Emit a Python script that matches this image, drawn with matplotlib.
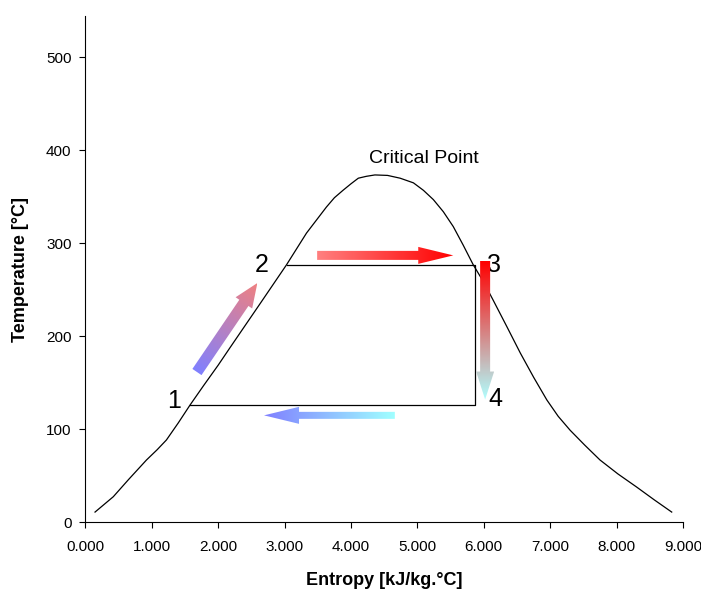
import matplotlib
matplotlib.use("Agg")
import matplotlib.pyplot as plt
import numpy as np
from matplotlib.colors import to_rgb
from matplotlib.patches import Polygon

plt.rcParams["font.family"] = ["Liberation Sans", "DejaVu Sans"]

# saturation dome, entropy [kJ/kg.C] vs temperature [C]
dome_s = [0.145, 0.42, 0.65, 0.92, 1.08, 1.22, 1.40, 1.575, 1.78, 2.0, 2.18,
          2.40, 2.63, 2.83, 3.03, 3.18, 3.33, 3.48, 3.63, 3.75, 3.88, 4.0,
          4.11, 4.23, 4.36, 4.55, 4.74, 4.94, 5.09, 5.24, 5.39, 5.54, 5.69,
          5.84, 6.0, 6.14, 6.35, 6.55, 6.75, 6.95, 7.12, 7.30, 7.52, 7.75,
          8.02, 8.30, 8.57, 8.83]
dome_T = [11, 27.5, 46, 67, 78, 88.5, 107, 126, 147, 169, 188,
          211, 235, 256, 277, 294, 311, 325, 339, 349, 357, 364,
          370, 372, 373.5, 373, 370, 365, 357, 347, 334, 318, 298,
          277, 258, 239, 210, 182, 156, 131.5, 114, 99, 83, 67,
          52, 38, 24, 11]

# cycle state points 1..4
state_labels = ["1", "2", "3", "4"]
state_s = [1.575, 3.03, 5.86, 5.86]
state_T = [126, 277, 277, 126]
label_s = [1.34, 2.66, 6.15, 6.17]
label_T = [130, 277, 277, 133]

# process arrows: start, end, start colour, end colour
arrow_start = [(1.68, 161.6), (3.49, 287), (6.02, 281), (4.66, 115)]
arrow_end = [(2.59, 257.3), (5.54, 287), (6.02, 132), (2.69, 115)]
arrow_c0 = ["#8080ff", "#ff8080", "#ff0000", "#a0ffff"]
arrow_c1 = ["#f08080", "#ff0000", "#b0ffff", "#8080ff"]
# shaft width, head width, head length in pixels
arrow_dims = [(11, 20, 24), (9, 17, 35), (10, 18, 28), (7, 17, 35)]

x_ticks = [0, 1, 2, 3, 4, 5, 6, 7, 8, 9]
y_ticks = [0, 100, 200, 300, 400, 500]


def gradient_arrow(ax, start, end, c0, c1, shaft=9, head_w=18, head_l=30):
    to_px = ax.transData
    p0 = to_px.transform(start)
    p1 = to_px.transform(end)
    d = p1 - p0
    length = np.hypot(*d)
    u = d / length
    n = np.array([-u[1], u[0]])
    base = p0 + u * (length - head_l)
    pts = [
        p0 + n * shaft / 2,
        base + n * shaft / 2,
        base + n * head_w / 2,
        p1,
        base - n * head_w / 2,
        base - n * shaft / 2,
        p0 - n * shaft / 2,
    ]
    poly = to_px.inverted().transform(np.array(pts))
    patch = Polygon(poly, closed=True, facecolor="none", edgecolor="none")
    ax.add_patch(patch)

    xmin, ymin = poly.min(axis=0)
    xmax, ymax = poly.max(axis=0)
    xs = np.linspace(xmin, xmax, 200)
    ys = np.linspace(ymin, ymax, 200)
    X, Y = np.meshgrid(xs, ys)
    P = to_px.transform(np.column_stack([X.ravel(), Y.ravel()]))
    t = np.clip(((P - p0) @ u) / length, 0, 1).reshape(X.shape)
    a = np.array(to_rgb(c0))
    b = np.array(to_rgb(c1))
    rgb = a * (1 - t[..., None]) + b * t[..., None]
    im = ax.imshow(rgb, extent=(xmin, xmax, ymin, ymax), origin="lower",
                   aspect="auto", interpolation="bilinear", zorder=3)
    im.set_clip_path(patch)


fig = plt.figure(figsize=(7.01, 5.90), dpi=100)
ax = fig.add_axes([85.4 / 701, 67.7 / 590, 597.6 / 701, 506.3 / 590])
ax.set_xlim(0, 9)
ax.set_ylim(0, 544.4)
ax.autoscale(False)

ax.plot(dome_s, dome_T, color="black", lw=0.9)

# top, right and bottom sides of the cycle (1-2 runs along the dome)
cyc_s = [state_s[1], state_s[2], state_s[3], state_s[0]]
cyc_T = [state_T[1], state_T[2], state_T[3], state_T[0]]
ax.plot(cyc_s, cyc_T, color="black", lw=0.9)

for lab, s, T in zip(state_labels, label_s, label_T):
    ax.text(s, T, lab, fontsize=18, ha="center", va="center")

ax.text(5.10, 391.7, "Critical Point", fontsize=14, ha="center", va="center")

for st, en, c0, c1, dims in zip(arrow_start, arrow_end, arrow_c0, arrow_c1,
                                arrow_dims):
    gradient_arrow(ax, st, en, c0, c1, *dims)

ax.spines["top"].set_visible(False)
ax.spines["right"].set_visible(False)
for sp in ("left", "bottom"):
    ax.spines[sp].set_linewidth(0.8)

ax.set_xticks(x_ticks)
ax.set_xticklabels([f"{v:.3f}" for v in x_ticks])
ax.set_yticks(y_ticks)
ax.tick_params(direction="out", length=4, width=0.8, labelsize=11)
ax.tick_params(axis="x", pad=9)
ax.tick_params(axis="y", pad=6)

ax.set_xlabel("Entropy [kJ/kg.°C]", fontsize=13, fontweight="bold")
ax.set_ylabel("Temperature [°C]", fontsize=13, fontweight="bold")
ax.xaxis.set_label_coords(0.5, -0.098)
ax.yaxis.set_label_coords(-0.094, 0.5)

fig.savefig("out.png", dpi=100)
